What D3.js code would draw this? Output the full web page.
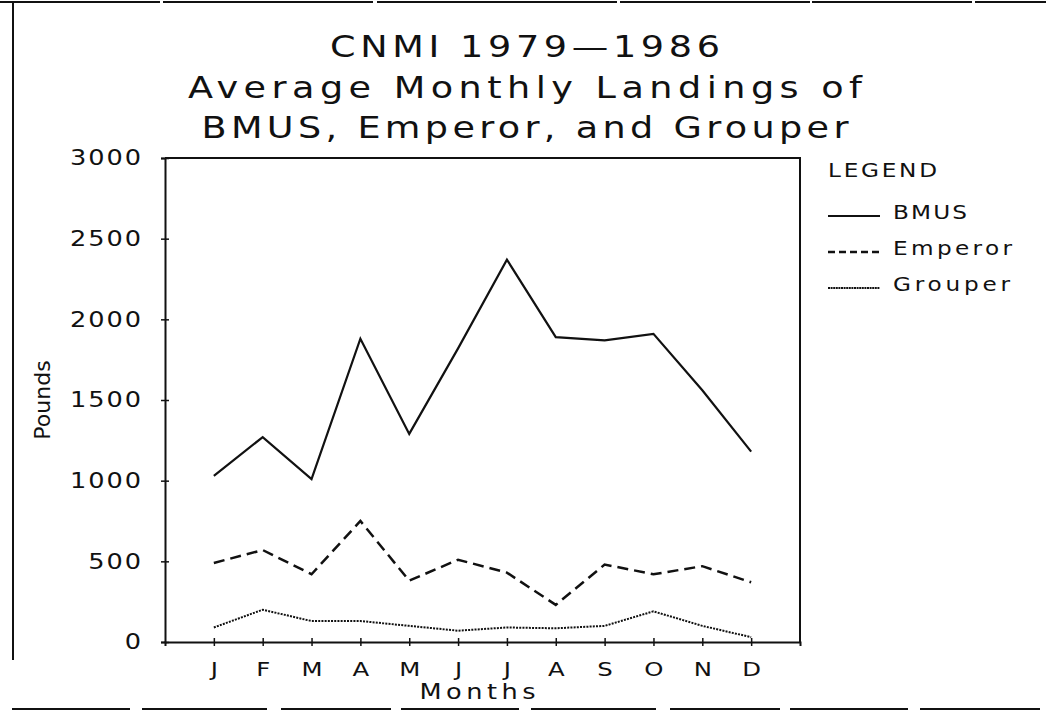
<!DOCTYPE html>
<html>
<head>
<meta charset="utf-8">
<script src="https://cdn.jsdelivr.net/npm/d3@7"></script>
<style>
  html, body { margin: 0; padding: 0; background: #fff; }
  svg { display: block; }
  text { font-family: "DejaVu Sans", "Liberation Sans", sans-serif; fill: #111; }
</style>
</head>
<body>
<svg id="chart" width="1046" height="712"></svg>
<script>
// Average monthly landings (pounds), CNMI 1979-1986
const months = ["J", "F", "M", "A", "M", "J", "J", "A", "S", "O", "N", "D"];
const bmus    = [1030, 1270, 1010, 1880, 1290, 1820, 2370, 1890, 1870, 1910, 1560, 1180];
const emperor = [490, 570, 420, 750, 380, 510, 430, 230, 480, 420, 470, 370];
const grouper = [90, 200, 130, 130, 100, 70, 90, 85, 100, 190, 100, 30];
const yTicks  = [0, 500, 1000, 1500, 2000, 2500, 3000];
const titleLines = ["CNMI 1979\u20141986", "Average Monthly Landings of", "BMUS, Emperor, and Grouper"];
const seriesNames = ["BMUS", "Emperor", "Grouper"];

const svg = d3.select("#chart");
const W = 1046;
const plot = { left: 165, right: 800, top: 158, bottom: 642 };
const ink = "#111";
const WIDE = 1.22; // horizontal stretch for the wide plotter-style lettering

const x = d3.scalePoint().domain(d3.range(months.length))
  .range([plot.left, plot.right]).padding(1);
const y = d3.scaleLinear().domain([0, 3000]).range([plot.bottom, plot.top]);

// stretched label: positioned by translate, widened by scaleX, optionally fitted to a width
function wideText(parent, px, py, str, size, anchor, width) {
  const t = parent.append("text")
    .attr("transform", `translate(${px},${py}) scale(${WIDE},1)`)
    .attr("text-anchor", anchor).attr("dominant-baseline", "central")
    .attr("font-size", size).text(str);
  if (width) t.attr("textLength", width / WIDE).attr("lengthAdjust", "spacing");
  return t;
}

// page border lines
svg.append("line").attr("x1", 0).attr("x2", W).attr("y1", 2).attr("y2", 2)
  .attr("stroke", ink).attr("stroke-width", 2).attr("stroke-dasharray", "160,3,210,4,240,3,190,2");
svg.append("line").attr("x1", 13).attr("x2", 13).attr("y1", 2).attr("y2", 660)
  .attr("stroke", ink).attr("stroke-width", 2);
svg.append("line").attr("x1", 12).attr("x2", 1040).attr("y1", 709).attr("y2", 709)
  .attr("stroke", ink).attr("stroke-width", 2).attr("stroke-dasharray", "118,12,125,14,110,10");

// title
const titleY = [47, 88, 128];
const titleLen = [390, 674, 647];
titleLines.forEach((t, i) => wideText(svg, 525, titleY[i], t, 30, "middle", titleLen[i]));

// plot frame (top and right edges)
svg.append("path")
  .attr("d", `M${plot.left},${plot.top}H${plot.right}V${plot.bottom}`)
  .attr("fill", "none").attr("stroke", ink).attr("stroke-width", 2);

// y axis
const gy = svg.append("g").attr("transform", `translate(${plot.left},0)`)
  .call(d3.axisLeft(y).tickValues(yTicks).tickFormat(d3.format("d"))
    .tickSizeOuter(0).tickSize(4).tickPadding(20));
gy.select(".domain").attr("stroke", ink).attr("stroke-width", 2);
gy.selectAll(".tick line").attr("x1", -4).attr("x2", 4).attr("stroke", ink).attr("stroke-width", 1.5);
gy.selectAll(".tick text").each(function () {
  const t = d3.select(this);
  const px = +t.attr("x");
  t.attr("x", 0).attr("transform", `translate(${px},0) scale(${WIDE},1)`)
    .attr("font-size", 21).attr("letter-spacing", 1.6).attr("dx", 1.6)
    .attr("fill", ink).attr("font-family", "DejaVu Sans");
});

// x axis
const gx = svg.append("g").attr("transform", `translate(0,${plot.bottom})`)
  .call(d3.axisBottom(x).tickFormat(i => months[i]).tickSizeOuter(0).tickSize(4).tickPadding(16));
gx.select(".domain").attr("stroke", ink).attr("stroke-width", 2);
gx.selectAll(".tick line").attr("y1", -4).attr("y2", 4).attr("stroke", ink).attr("stroke-width", 1.5);
gx.selectAll(".tick text").each(function () {
  const t = d3.select(this);
  t.attr("transform", `scale(${WIDE},1)`).attr("x", 0)
    .attr("font-size", 20).attr("fill", ink).attr("font-family", "DejaVu Sans");
});

// axis titles
wideText(svg, (plot.left + plot.right) / 2 - 5, 692, "Months", 21, "middle", 116);
svg.append("text").attr("transform", "translate(42,400) rotate(-90)")
  .attr("text-anchor", "middle").attr("dominant-baseline", "central")
  .attr("font-family", "'Liberation Sans Narrow', 'Liberation Sans', sans-serif")
  .attr("font-size", 22).text("Pounds");

// series lines
const styles = [
  { data: bmus, width: 2.2, dash: null },
  { data: emperor, width: 2.5, dash: "11,6" },
  { data: grouper, width: 2, dash: "2,1.2" }
];
const line = d3.line().x((d, i) => x(i)).y(d => y(d));
styles.forEach(s => {
  svg.append("path").datum(s.data).attr("d", line)
    .attr("fill", "none").attr("stroke", ink).attr("stroke-width", s.width)
    .attr("stroke-linejoin", "miter").attr("stroke-dasharray", s.dash);
});

// legend
wideText(svg, 828, 170, "LEGEND", 19, "start", 109);
const legY = [212, 248, 284];
const legLen = [74, 119, 117];
const legDash = [null, "7,4", "2,0.6"];
seriesNames.forEach((name, i) => {
  svg.append("line").attr("x1", 828).attr("x2", 880).attr("y1", legY[i] + 4).attr("y2", legY[i] + 4)
    .attr("stroke", ink).attr("stroke-width", styles[i].width)
    .attr("stroke-dasharray", legDash[i]);
  wideText(svg, 893, legY[i], name, 19, "start", legLen[i]);
});
</script>
</body>
</html>
